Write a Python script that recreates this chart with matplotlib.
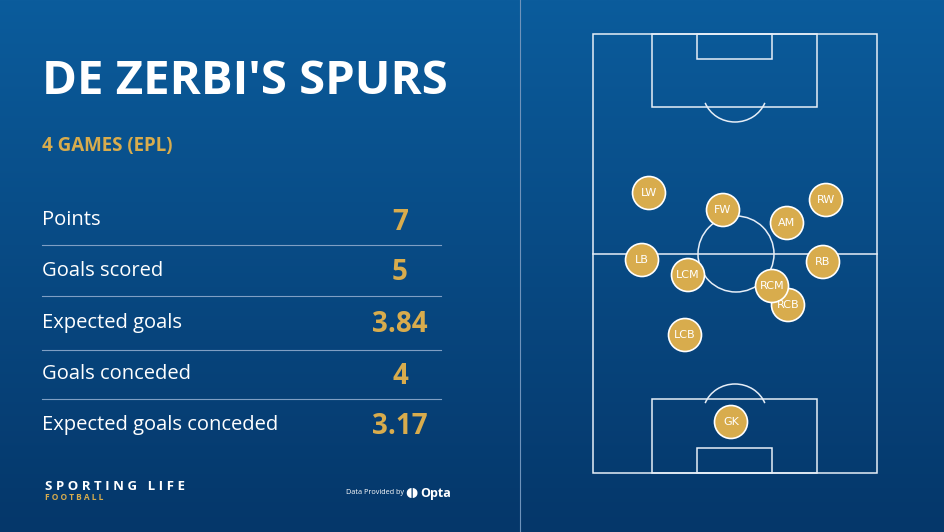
import matplotlib
matplotlib.use("Agg")
import matplotlib.pyplot as plt
import numpy as np
from matplotlib.patches import Circle, Rectangle, Arc

title = "DE ZERBI'S SPURS"
subtitle = "4 GAMES (EPL)"
stat_labels = ["Points", "Goals scored", "Expected goals", "Goals conceded", "Expected goals conceded"]
stat_values = ["7", "5", "3.84", "4", "3.17"]
positions = ["LW", "FW", "AM", "RW", "LB", "LCM", "RB", "RCB", "RCM", "LCB", "GK"]
pos_x = [649, 723, 787, 826, 642, 688, 823, 788, 772, 685, 731]
pos_y = [193, 210, 223, 200, 260, 275, 262, 305, 286, 335, 422]

W, H = 945, 532
fig = plt.figure(figsize=(W/100, H/100), dpi=100)
ax = fig.add_axes([0, 0, 1, 1])
ax.set_xlim(0, W); ax.set_ylim(H, 0); ax.axis('off')

top = np.array([0x0b, 0x5c, 0x9c]) / 255
bot = np.array([0x05, 0x37, 0x6a]) / 255
t = np.linspace(0, 1, 256)[:, None]
grad = top * (1 - t) + bot * t
ax.imshow(grad[:, None, :].repeat(2, axis=1), extent=[0, W, H, 0], aspect='auto', zorder=0)
ax.plot([520, 520], [0, H], color='#6f93bb', lw=0.8, zorder=1)

gold = '#d8ac4d'
ax.text(42, 82, title, color='white', fontsize=34, fontweight='bold', family='Open Sans', va='center')
ax.text(42, 146, subtitle, color=gold, fontsize=13.5, fontweight='bold', family='Open Sans', va='center')
rows_y = [220, 271, 323, 374, 425]
for i, (lab, val) in enumerate(zip(stat_labels, stat_values)):
    y = rows_y[i]
    ax.text(42, y, lab, color='white', fontsize=14.5, family='Open Sans', va='center')
    ax.text(400, y + 2, val, color=gold, fontsize=20, fontweight='bold', family='Open Sans', va='center', ha='center')
    if i < len(stat_labels) - 1:
        ax.plot([42, 441], [y + 25 + (2 if i == 2 else 0)] * 2, color='#7f9fc4', lw=0.8)

ax.text(45, 486, "S P O R T I N G   L I F E", color='white', fontsize=9.5, fontweight='bold', family='Open Sans', va='center')
ax.text(45, 498, "F O O T B A L L", color=gold, fontsize=6, fontweight='bold', family='Open Sans', va='center')
ax.text(346, 493, "Data Provided by", color='white', fontsize=5.2, family='Open Sans', va='center')
ax.text(405, 493, "◖◗", color='white', fontsize=9, va='center')
ax.text(420, 493, "Opta", color='white', fontsize=9, fontweight='bold', family='Open Sans', va='center')

lc = '#e6eef7'; lw = 1.1
ax.add_patch(Rectangle((593, 34), 284, 439, fill=False, ec=lc, lw=lw, zorder=2))
ax.plot([593, 877], [254, 254], color=lc, lw=lw, zorder=2)
ax.add_patch(Circle((736, 254), 38, fill=False, ec=lc, lw=lw, zorder=2))
ax.add_patch(Rectangle((652, 34), 165, 73, fill=False, ec=lc, lw=lw, zorder=2))
ax.add_patch(Rectangle((697, 34), 75, 25, fill=False, ec=lc, lw=lw, zorder=2))
ax.add_patch(Rectangle((652, 399), 165, 74, fill=False, ec=lc, lw=lw, zorder=2))
ax.add_patch(Rectangle((697, 448), 75, 25, fill=False, ec=lc, lw=lw, zorder=2))
ax.add_patch(Arc((735, 92), 64, 60, theta1=20, theta2=160, ec=lc, lw=lw, zorder=2))
ax.add_patch(Arc((735, 414), 64, 60, theta1=200, theta2=340, ec=lc, lw=lw, zorder=2))

for p, x, y in zip(positions, pos_x, pos_y):
    ax.add_patch(Circle((x, y), 16.5, fc=gold, ec='white', lw=1.2, zorder=3))
    ax.text(x, y, p, color='white', fontsize=8, ha='center', va='center', zorder=4)

fig.savefig('out.png', dpi=100)
